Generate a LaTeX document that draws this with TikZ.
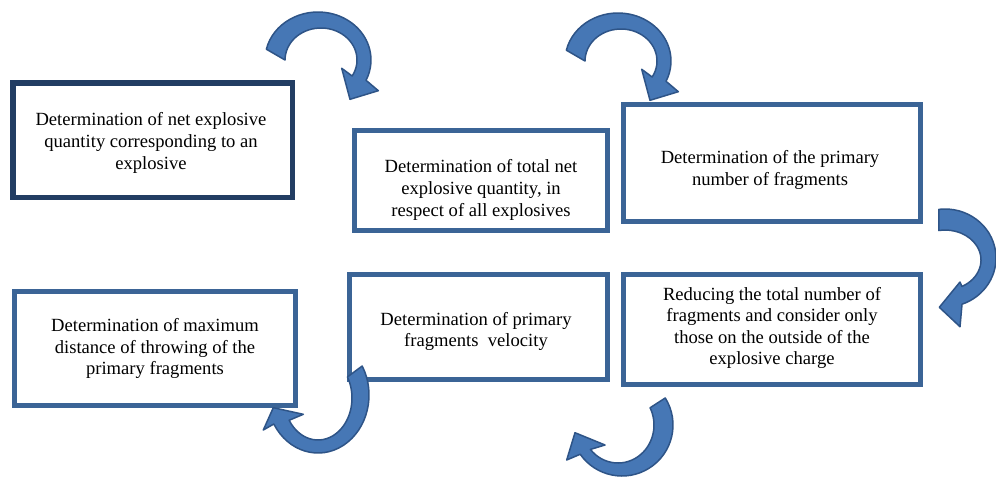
\documentclass[tikz,border=0pt]{standalone}
\usepackage{fontspec}
\setmainfont{Liberation Serif}
\usetikzlibrary{calc}
\definecolor{navyline}{HTML}{223D63}
\definecolor{boxline}{HTML}{3B6496}
\definecolor{arrowfill}{HTML}{4677B5}
\definecolor{arrowline}{HTML}{2E5487}
\begin{document}
\begin{tikzpicture}[x=1pt,y=-1pt,
  stagebox/.style={draw=boxline,line width=5pt,fill=white,inner sep=0pt},
  stagetext/.style={align=center,inner sep=0pt,text=black,
    font=\fontsize{18.6}{21.6}\selectfont},
  blockarrow/.style={fill=arrowfill,draw=arrowline,line width=1.5pt,line join=round}]
\useasboundingbox (0,0) rectangle (996,482);
\fill[white] (0,0) rectangle (996,482);

% process stages
\node[stagebox,draw=navyline,line width=5.5pt,minimum width=279.5pt,minimum height=114.5pt] (b1) at (152.5,140) {};
\node[stagebox,minimum width=253pt,minimum height=100pt] (b2) at (481,180.5) {};
\node[stagebox,minimum width=297pt,minimum height=117pt] (b3) at (772,163) {};
\node[stagebox,minimum width=297pt,minimum height=110pt] (b4) at (772,329.5) {};
\node[stagebox,minimum width=258pt,minimum height=105pt] (b5) at (478.5,327) {};
\node[stagebox,minimum width=281pt,minimum height=114pt] (b6) at (155,348.5) {};

\node[stagetext] (t1) at ($(b1)+(-1.5,3)$) {Determination of net explosive\\quantity corresponding to an\\explosive};
\node[stagetext] (t2) at ($(b2)+(0,9.5)$) {Determination of total net\\explosive quantity, in\\respect of all explosives};
\node[stagetext] (t3) at ($(b3)+(-2,7)$) {Determination of the primary\\number of fragments};
\node[stagetext] (t4) at ($(b4)+(0,-1.5)$) {Reducing the total number of\\fragments and consider only\\those on the outside of the\\explosive charge};
\node[stagetext] (t5) at ($(b5)+(-2.5,4.5)$) {Determination of primary\\fragments\ \ velocity};
\node[stagetext] (t6) at ($(b6)+(0,0)$) {Determination of maximum\\distance of throwing of the\\primary fragments};

% curved block arrows between the stages
\foreach \dx/\dy in {0/0,300/1}{
\begin{scope}[shift={(\dx,\dy)}]
\path[blockarrow] ($(318,60)+(193:53 and 48)$)
    arc[start angle=193,end angle=385,x radius=53,y radius=48]
  -- (378.3,90.7) -- (350,99.3) -- (341.7,68.3)
  -- ($(321,60)+(390:36 and 32)$)
    arc[start angle=390,end angle=180,x radius=36,y radius=32] -- cycle;
\end{scope}}

\path[blockarrow] ($(945,258)+(263:51 and 49)$)
    arc[start angle=263,end angle=430.5,x radius=51,y radius=49]
  -- (960,326.7) -- (939.3,307.3) -- (960,282)
  -- ($(945,260)+(422:36 and 30)$)
    arc[start angle=422,end angle=260,x radius=36,y radius=30] -- cycle;

\path[blockarrow] ($(622,425)+(-32:51 and 51)$)
    arc[start angle=-32,end angle=145,x radius=51,y radius=51]
  -- (566.7,460) -- (575,432.7) -- (605,445)
  -- ($(618,425)+(140:36 and 38)$)
    arc[start angle=140,end angle=-27,x radius=36,y radius=38] -- cycle;

\path[blockarrow] ($(318,395)+(-30:51 and 58)$)
    arc[start angle=-30,end angle=150,x radius=51,y radius=58]
  -- (263.3,430) -- (273.3,407.7) -- (303.3,414.3)
  -- ($(318,398)+(148:34 and 42)$)
    arc[start angle=148,end angle=-30,x radius=34,y radius=42] -- cycle;
\end{tikzpicture}
\end{document}
